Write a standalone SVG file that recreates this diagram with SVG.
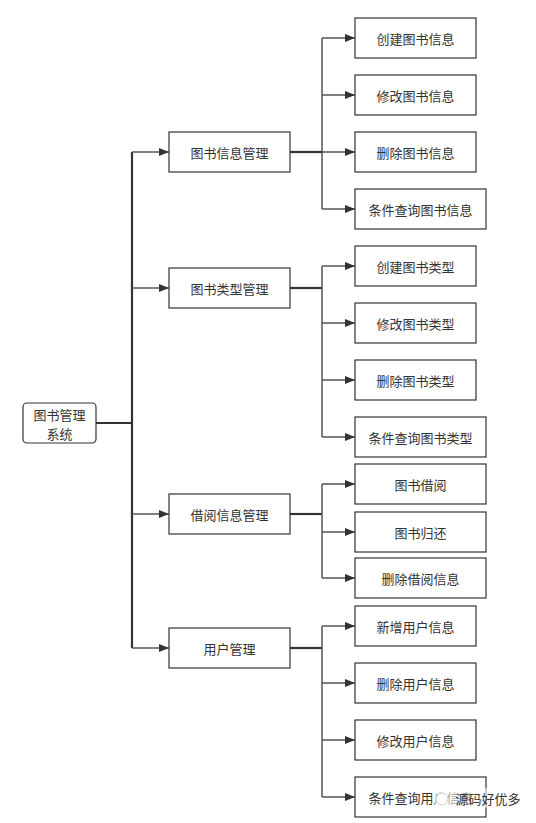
<svg xmlns="http://www.w3.org/2000/svg" width="536" height="823" viewBox="0 0 536 823">
<defs>
<style>
.box{fill:#fff;stroke:#333;stroke-width:1.2}
.t{font-family:"Noto Sans CJK SC","Liberation Sans",sans-serif;font-size:13px;fill:#333;text-anchor:middle;dominant-baseline:central}
.c{fill:none;stroke:#555;stroke-width:1.5}
.k{fill:none;stroke:#333;stroke-width:2.2}
</style>
<marker id="ah" viewBox="0 0 10 8" refX="10" refY="4" markerWidth="10" markerHeight="8" markerUnits="userSpaceOnUse" orient="auto">
<path d="M0,0 L10,4 L0,8 Z" fill="#333"/>
</marker>
</defs>
<rect width="536" height="823" fill="#fff"/>
<g id="connectors">
<path class="k" d="M96,423 H132"/>
<path class="k" d="M132,152 V648"/>
<path class="c" marker-end="url(#ah)" d="M132,152 H169"/>
<path class="c" marker-end="url(#ah)" d="M132,288 H169"/>
<path class="c" marker-end="url(#ah)" d="M132,514 H169"/>
<path class="c" marker-end="url(#ah)" d="M132,648 H169"/>
<path class="k" d="M290,152 H322"/>
<path class="c" d="M322,38 V209"/>
<path class="c" marker-end="url(#ah)" d="M322,38 H355"/>
<path class="c" marker-end="url(#ah)" d="M322,95 H355"/>
<path class="c" marker-end="url(#ah)" d="M322,152 H355"/>
<path class="c" marker-end="url(#ah)" d="M322,209 H355"/>
<path class="k" d="M290,288 H322"/>
<path class="c" d="M322,266 V437"/>
<path class="c" marker-end="url(#ah)" d="M322,266 H355"/>
<path class="c" marker-end="url(#ah)" d="M322,323 H355"/>
<path class="c" marker-end="url(#ah)" d="M322,380 H355"/>
<path class="c" marker-end="url(#ah)" d="M322,437 H355"/>
<path class="k" d="M290,514 H322"/>
<path class="c" d="M322,484 V578"/>
<path class="c" marker-end="url(#ah)" d="M322,484 H355"/>
<path class="c" marker-end="url(#ah)" d="M322,532 H355"/>
<path class="c" marker-end="url(#ah)" d="M322,578 H355"/>
<path class="k" d="M290,648 H322"/>
<path class="c" d="M322,626 V797"/>
<path class="c" marker-end="url(#ah)" d="M322,626 H355"/>
<path class="c" marker-end="url(#ah)" d="M322,683 H355"/>
<path class="c" marker-end="url(#ah)" d="M322,740 H355"/>
<path class="c" marker-end="url(#ah)" d="M322,797 H355"/>
</g>
<g id="root"><rect class="box" x="23" y="403" width="73" height="40" rx="4"/><text class="t" x="59.5" y="414">图书管理</text><text class="t" x="59.5" y="433">系统</text></g>
<g id="n1"><rect class="box" x="169" y="132" width="121" height="40"/><text class="t" x="229.5" y="152">图书信息管理</text></g>
<g id="n2"><rect class="box" x="169" y="268" width="121" height="40"/><text class="t" x="229.5" y="288">图书类型管理</text></g>
<g id="n3"><rect class="box" x="169" y="494" width="121" height="40"/><text class="t" x="229.5" y="514">借阅信息管理</text></g>
<g id="n4"><rect class="box" x="169" y="628" width="121" height="40"/><text class="t" x="229.5" y="648">用户管理</text></g>
<g id="n1a"><rect class="box" x="355" y="18" width="121" height="40"/><text class="t" x="415.5" y="38">创建图书信息</text></g>
<g id="n1b"><rect class="box" x="355" y="75" width="121" height="40"/><text class="t" x="415.5" y="95">修改图书信息</text></g>
<g id="n1c"><rect class="box" x="355" y="132" width="121" height="40"/><text class="t" x="415.5" y="152">删除图书信息</text></g>
<g id="n1d"><rect class="box" x="355" y="189" width="131" height="40"/><text class="t" x="420.5" y="209">条件查询图书信息</text></g>
<g id="n2a"><rect class="box" x="355" y="246" width="121" height="40"/><text class="t" x="415.5" y="266">创建图书类型</text></g>
<g id="n2b"><rect class="box" x="355" y="303" width="121" height="40"/><text class="t" x="415.5" y="323">修改图书类型</text></g>
<g id="n2c"><rect class="box" x="355" y="360" width="121" height="40"/><text class="t" x="415.5" y="380">删除图书类型</text></g>
<g id="n2d"><rect class="box" x="355" y="417" width="131" height="40"/><text class="t" x="420.5" y="437">条件查询图书类型</text></g>
<g id="n3a"><rect class="box" x="355" y="464" width="131" height="40"/><text class="t" x="420.5" y="484">图书借阅</text></g>
<g id="n3b"><rect class="box" x="355" y="512" width="131" height="40"/><text class="t" x="420.5" y="532">图书归还</text></g>
<g id="n3c"><rect class="box" x="355" y="558" width="131" height="40"/><text class="t" x="420.5" y="578">删除借阅信息</text></g>
<g id="n4a"><rect class="box" x="355" y="606" width="121" height="40"/><text class="t" x="415.5" y="626">新增用户信息</text></g>
<g id="n4b"><rect class="box" x="355" y="663" width="121" height="40"/><text class="t" x="415.5" y="683">删除用户信息</text></g>
<g id="n4c"><rect class="box" x="355" y="720" width="121" height="40"/><text class="t" x="415.5" y="740">修改用户信息</text></g>
<g id="n4d"><rect class="box" x="355" y="777" width="131" height="40"/><text class="t" x="420.5" y="797">条件查询用户信息</text></g>
<g id="watermark">
<rect x="434" y="788" width="88" height="20" rx="6" fill="#fff" fill-opacity="0.55"/>
<circle cx="442" cy="799" r="6" fill="#fff" stroke="#ccc" stroke-width="1"/>
<text class="t" x="488" y="798" style="font-size:13px">源码好优多</text>
</g>
</svg>
